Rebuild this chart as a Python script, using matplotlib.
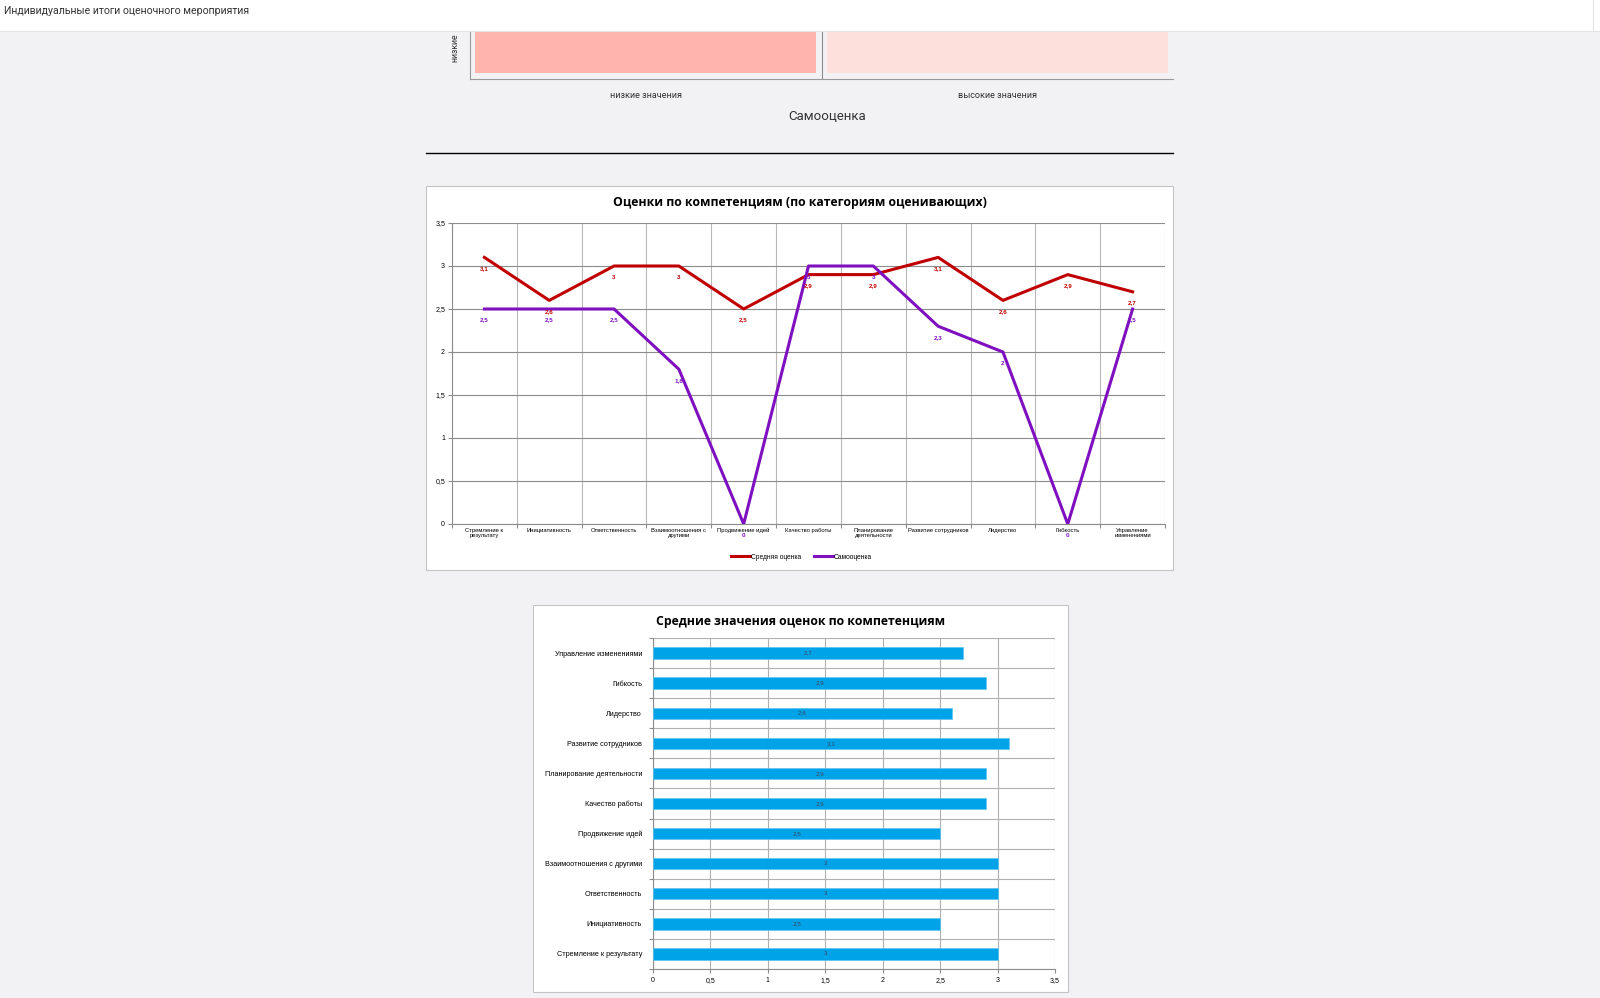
import numpy as np
import matplotlib
matplotlib.use('Agg')
import matplotlib.pyplot as plt
from matplotlib.patches import Rectangle

# data
competencies = ['Стремление к результату', 'Инициативность', 'Ответственность',
                'Взаимоотношения с другими', 'Продвижение идей', 'Качество работы',
                'Планирование деятельности', 'Развитие сотрудников', 'Лидерство',
                'Гибкость', 'Управление изменениями']
short_labels = ['Стремление к\nрезультату', 'Инициативность', 'Ответственность',
                'Взаимоотношения с\nдругими', 'Продвижение идей', 'Качество работы',
                'Планирование\nдеятельности', 'Развитие сотрудников', 'Лидерство',
                'Гибкость', 'Управление\nизменениями']
avg_scores = [3.1, 2.6, 3.0, 3.0, 2.5, 2.9, 2.9, 3.1, 2.6, 2.9, 2.7]
self_scores = [2.5, 2.5, 2.5, 1.8, 0.0, 3.0, 3.0, 2.3, 2.0, 0.0, 2.5]
bar_scores = [3.0, 2.5, 3.0, 3.0, 2.5, 2.9, 2.9, 3.1, 2.6, 2.9, 2.7]
score_ticks = [0, 0.5, 1, 1.5, 2, 2.5, 3, 3.5]

heat_cols = ['низкие значения', 'высокие значения']
heat_colors = ['#ffb5ae', '#fde0dc']

W, H = 1600, 998
BG = '#f2f2f4'
SMALL = ['Liberation Sans', 'DejaVu Sans']
TITLE = ['Open Sans', 'DejaVu Sans']
UI = ['Roboto', 'DejaVu Sans']


def fmt(v):
    s = ('%g' % v).replace('.', ',')
    return s


def px_axes(x0, y0, x1, y1):
    # axes placed by pixel box (top-left origin)
    return fig.add_axes([x0 / W, 1 - y1 / H, (x1 - x0) / W, (y1 - y0) / H])


fig = plt.figure(figsize=(W / 100, H / 100), dpi=100, facecolor=BG)

# page background and chart frames
bg = fig.add_axes([0, 0, 1, 1])
bg.set_xlim(0, W)
bg.set_ylim(H, 0)
bg.axis('off')
bg.add_patch(Rectangle((426, 186), 747, 384, fc='white', ec='#c4c4c4', lw=0.8))
bg.add_patch(Rectangle((533, 605), 535, 387, fc='white', ec='#c4c4c4', lw=0.8))
bg.plot([426, 1173], [153, 153], color='black', lw=1.0)
bg.text(827, 116, 'Самооценка', ha='center', va='center', fontsize=9.5,
        color='#333333', family=UI)
bg.text(455, 62, 'низкие', rotation=90, ha='center', va='bottom',
        fontsize=6.3, color='#333333', family=UI)
bg.text(799.5, 202, 'Оценки по компетенциям (по категориям оценивающих)',
        ha='center', va='center', fontsize=8.8, fontweight='bold', family=TITLE)
bg.text(800.5, 621, 'Средние значения оценок по компетенциям',
        ha='center', va='center', fontsize=8.8, fontweight='bold', family=TITLE)

# top heatmap (partly hidden under header)
hax = px_axes(470, -200, 1173, 79)
hax.set_facecolor('none')
hax.bar(np.arange(len(heat_cols)) + 0.5, [400, 400], width=0.97, bottom=6.5,
        color=heat_colors)
hax.axvline(1.0, color='#8c8c8c', lw=0.8)
hax.set_xlim(0, 2)
hax.set_ylim(0, 279)
hax.set_xticks(np.arange(len(heat_cols)) + 0.5, heat_cols)
hax.set_yticks([])
hax.tick_params(axis='x', length=0, pad=9, labelsize=6.5, labelcolor='#333333')
for lab in hax.get_xticklabels():
    lab.set_family(UI)
for side in ['top', 'right']:
    hax.spines[side].set_visible(False)
hax.spines['left'].set_color('#9a9a9a')
hax.spines['bottom'].set_color('#9a9a9a')

# line chart
lax = px_axes(452, 223, 1165, 524)
x = np.arange(len(competencies)) + 0.5
lax.plot(x, avg_scores, color='#c00000', lw=2.2, label='Средняя оценка', zorder=3)
lax.plot(x, self_scores, color='#7f10c0', lw=2.2, label='Самооценка', zorder=3)
for xi, v in zip(x, avg_scores):
    lax.annotate(fmt(v), (xi, v), xytext=(0, -8), textcoords='offset points',
                 ha='center', va='center', fontsize=4.5, color='#c00000',
                 fontweight='bold', family=SMALL, zorder=4)
for xi, v in zip(x, self_scores):
    lax.annotate(fmt(v), (xi, v), xytext=(0, -8), textcoords='offset points',
                 ha='center', va='center', fontsize=4.5, color='#7f10c0',
                 fontweight='bold', family=SMALL, zorder=4)
lax.set_xlim(0, len(competencies))
lax.set_ylim(0, 3.5)
lax.set_xticks(np.arange(len(competencies) + 1))
lax.set_xticklabels([])
lax.set_xticks(x, short_labels, minor=True)
lax.set_yticks(score_ticks, [fmt(t) for t in score_ticks])
lax.grid(axis='x', which='major', color='#b8b8b8', lw=0.8)
lax.grid(axis='y', color='#8c8c8c', lw=0.8)
lax.tick_params(axis='x', which='major', length=3, color='#8c8c8c')
lax.tick_params(axis='x', which='minor', length=0, pad=3, labelsize=4.2)
lax.tick_params(axis='y', length=3, color='#8c8c8c', labelsize=5, pad=2)
for lab in lax.get_xticklabels(minor=True) + lax.get_yticklabels():
    lab.set_family(SMALL)
    lab.set_linespacing(1.0)
for side in ['top', 'right']:
    lax.spines[side].set_visible(False)
lax.spines['left'].set_color('#8c8c8c')
lax.spines['bottom'].set_color('#8c8c8c')
lax.legend(loc='center', bbox_to_anchor=(0.49, -0.11), ncol=2, frameon=False,
           prop={'family': SMALL, 'size': 4.8}, handlelength=2.9,
           handletextpad=0.1, columnspacing=1.9)

# bar chart
bax = px_axes(653, 638, 1055, 969)
y = np.arange(len(competencies))
bax.barh(y, bar_scores, height=0.38, color='#00a2e8', edgecolor='#5cc4f0',
         lw=0.5, zorder=3)
for yi, v in zip(y, bar_scores):
    bax.text(v / 2, yi, fmt(v), ha='center', va='center', fontsize=4.5,
             color='#3a4660', family=SMALL, zorder=4)
bax.set_xlim(0, 3.5)
bax.set_ylim(-0.5, len(competencies) - 0.5)
bax.set_xticks(score_ticks, [fmt(t) for t in score_ticks])
bax.set_yticks(np.arange(len(competencies) + 1) - 0.5)
bax.set_yticklabels([])
bax.set_yticks(y, competencies, minor=True)
bax.grid(axis='x', color='#b0b0b0', lw=0.8)
bax.grid(axis='y', which='major', color='#b0b0b0', lw=0.8)
bax.tick_params(axis='y', which='major', length=3, color='#8c8c8c')
bax.tick_params(axis='y', which='minor', length=0, pad=8, labelsize=5.2)
bax.tick_params(axis='x', length=3, color='#8c8c8c', labelsize=5, pad=3)
for lab in bax.get_yticklabels(minor=True) + bax.get_xticklabels():
    lab.set_family(SMALL)
for side in ['top', 'right']:
    bax.spines[side].set_visible(False)
bax.spines['left'].set_color('#8c8c8c')
bax.spines['bottom'].set_color('#8c8c8c')

# header bar on top of everything
top = fig.add_axes([0, 0, 1, 1])
top.set_zorder(10)
top.set_xlim(0, W)
top.set_ylim(H, 0)
top.axis('off')
top.add_patch(Rectangle((0, 0), W, 31, fc='white', ec='none'))
top.plot([0, W], [31, 31], color='#e4e4e6', lw=0.8)
top.plot([1593, 1593], [0, 31], color='#e4e4e6', lw=0.8)
top.text(4, 11, 'Индивидуальные итоги оценочного мероприятия', ha='left',
         va='center', fontsize=7.6, color='#333333', family=UI)

fig.savefig('out.png', dpi=100, facecolor=BG)
